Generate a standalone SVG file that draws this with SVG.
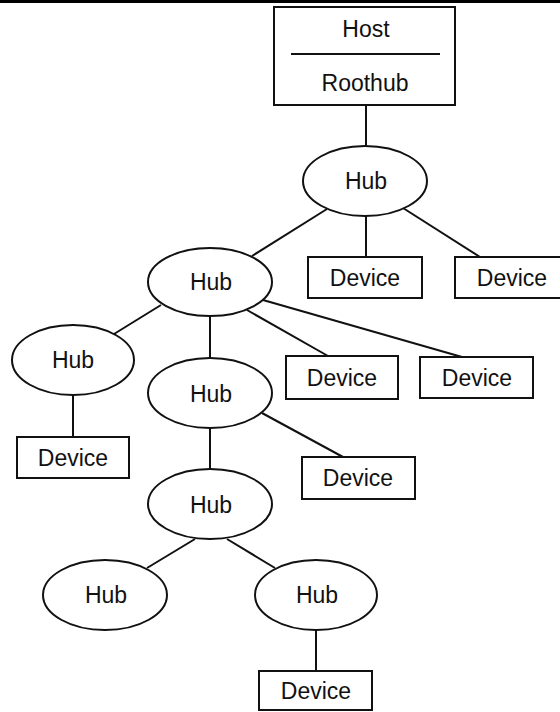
<svg xmlns="http://www.w3.org/2000/svg" width="560" height="712" viewBox="0 0 560 712">
<style>
.n{fill:#fff;stroke:#111;stroke-width:2}
.t{font-family:"Liberation Sans",Arial,sans-serif;font-size:23px;fill:#111;text-anchor:middle}
.c line{stroke:#111;stroke-width:2}
</style>
<rect x="0" y="0" width="560" height="3" fill="#000"/>
<g class="c" id="connectors">
<line x1="366" y1="105" x2="366" y2="146"/>
<line x1="327" y1="209" x2="252" y2="256"/>
<line x1="366" y1="216" x2="366" y2="257"/>
<line x1="403" y1="208" x2="480" y2="257"/>
<line x1="161" y1="305" x2="114" y2="334"/>
<line x1="210" y1="316" x2="210" y2="358"/>
<line x1="247" y1="310" x2="328" y2="356"/>
<line x1="263" y1="300" x2="462" y2="357"/>
<line x1="73" y1="396" x2="73" y2="437"/>
<line x1="262" y1="413" x2="343" y2="457"/>
<line x1="210" y1="428" x2="210" y2="470"/>
<line x1="195" y1="539" x2="147" y2="568"/>
<line x1="227" y1="539" x2="275" y2="568"/>
<line x1="316" y1="629" x2="316" y2="671"/>
</g>
<g id="host">
<rect class="n" x="274" y="7" width="181" height="98"/>
<line x1="291" y1="54" x2="440" y2="54" stroke="#111" stroke-width="2"/>
<text class="t" x="366" y="37">Host</text>
<text class="t" x="365" y="91">Roothub</text>
</g>
<g id="hub1"><ellipse class="n" cx="365" cy="181" rx="62" ry="35"/><text class="t" x="366" y="189">Hub</text></g>
<g id="dev1"><rect class="n" x="308" y="257" width="114" height="41"/><text class="t" x="365" y="286">Device</text></g>
<g id="dev2"><rect class="n" x="455" y="257" width="114" height="41"/><text class="t" x="512" y="286">Device</text></g>
<g id="hub2"><ellipse class="n" cx="210" cy="282" rx="62" ry="34"/><text class="t" x="211" y="290">Hub</text></g>
<g id="hub3"><ellipse class="n" cx="73" cy="360" rx="61" ry="35"/><text class="t" x="73" y="368">Hub</text></g>
<g id="dev3"><rect class="n" x="17" y="437" width="112" height="41"/><text class="t" x="73" y="466">Device</text></g>
<g id="hub4"><ellipse class="n" cx="210" cy="393" rx="62" ry="35"/><text class="t" x="211" y="402">Hub</text></g>
<g id="dev4"><rect class="n" x="286" y="356" width="112" height="43"/><text class="t" x="342" y="386">Device</text></g>
<g id="dev5"><rect class="n" x="420" y="357" width="113" height="41"/><text class="t" x="477" y="386">Device</text></g>
<g id="dev6"><rect class="n" x="302" y="457" width="113" height="42"/><text class="t" x="358" y="486">Device</text></g>
<g id="hub5"><ellipse class="n" cx="210" cy="504" rx="62" ry="35"/><text class="t" x="211" y="513">Hub</text></g>
<g id="hub6"><ellipse class="n" cx="105" cy="595" rx="62" ry="35"/><text class="t" x="106" y="603">Hub</text></g>
<g id="hub7"><ellipse class="n" cx="316" cy="595" rx="61" ry="35"/><text class="t" x="317" y="603">Hub</text></g>
<g id="dev7"><rect class="n" x="259" y="671" width="113" height="39"/><text class="t" x="316" y="699">Device</text></g>
</svg>
